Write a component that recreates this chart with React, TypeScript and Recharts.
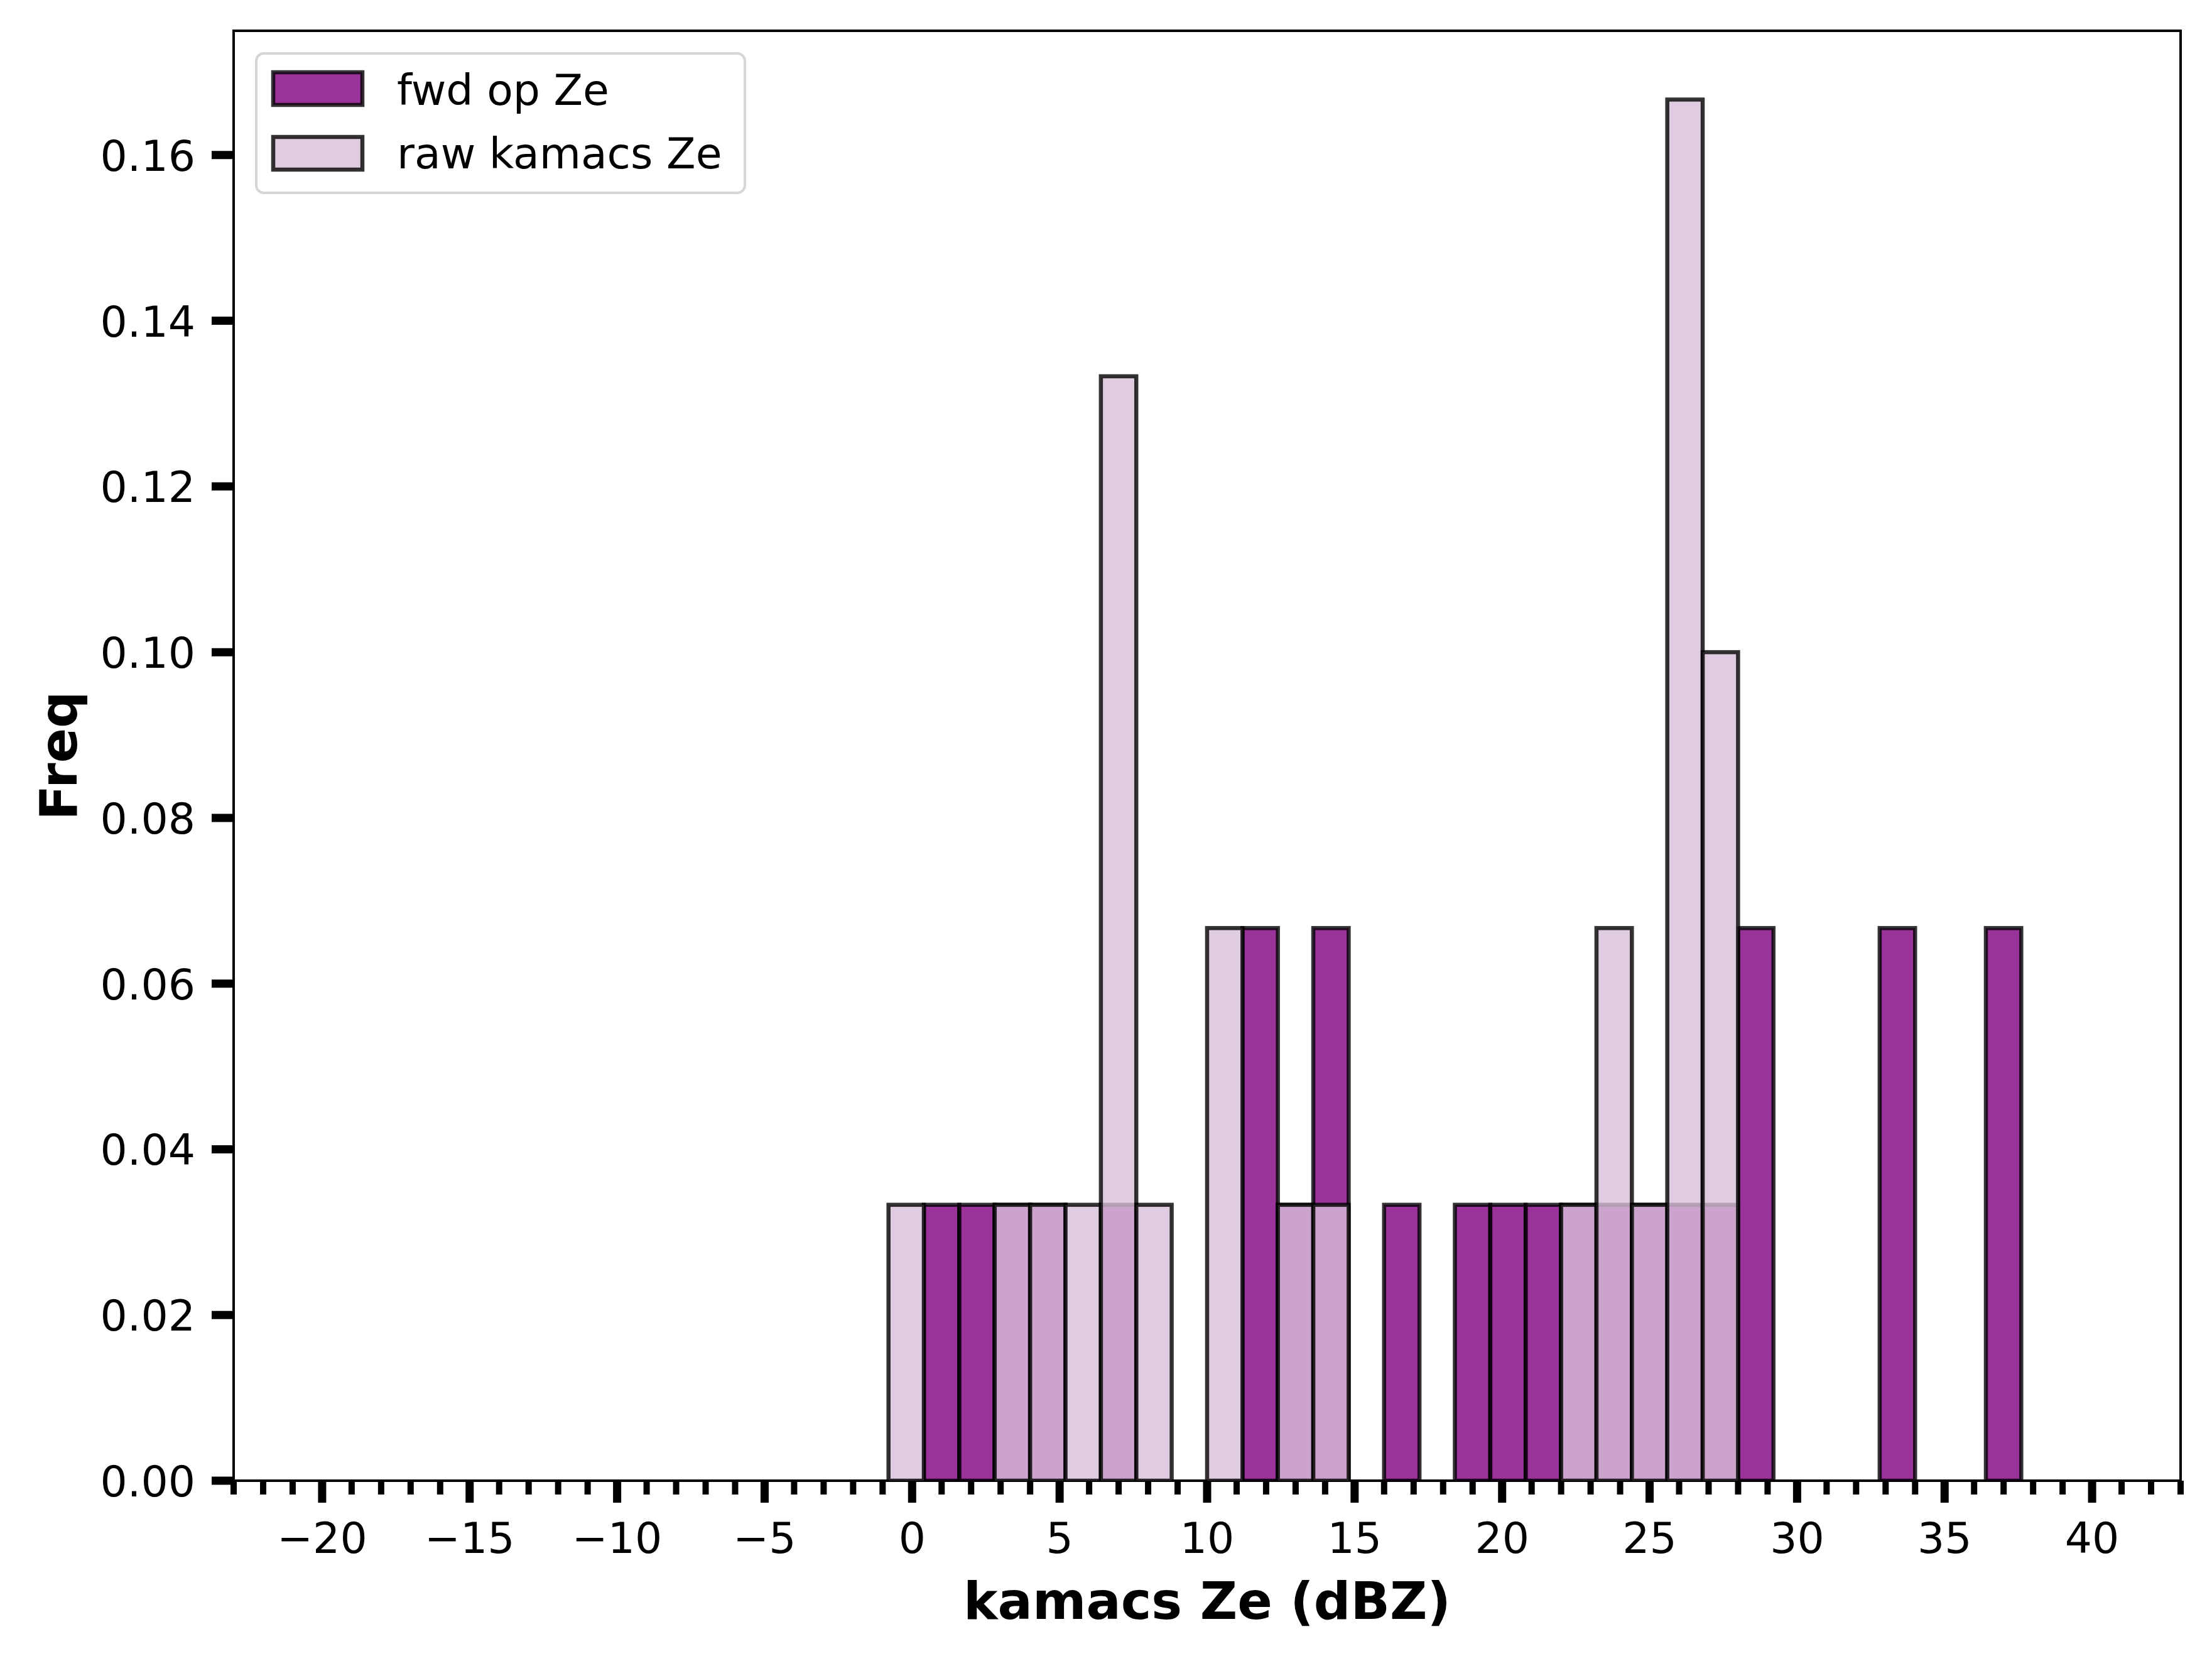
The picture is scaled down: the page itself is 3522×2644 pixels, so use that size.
import React from "react";
import { ComposedChart, Bar, XAxis, YAxis, ReferenceArea, Legend, Label } from "recharts";

// histogram bins (width 1.2 dBZ), only the non-empty ones
const binCenters = [-0.2, 1.0, 2.2, 3.4, 4.6, 5.8, 7.0, 8.2, 10.6, 11.8, 13.0, 14.2, 16.6, 19.0, 20.2, 21.4, 22.6, 23.8, 25.0, 26.2, 27.4, 28.6, 33.4, 37.0];
const fwdFreq = [0, 0.0333, 0.0333, 0.0333, 0.0333, 0, 0.0333, 0, 0, 0.0667, 0.0333, 0.0667, 0.0333, 0.0333, 0.0333, 0.0333, 0.0333, 0.0333, 0.0333, 0.0333, 0.0333, 0.0667, 0.0667, 0.0667];
const rawFreq = [0.0333, 0, 0, 0.0333, 0.0333, 0.0333, 0.1333, 0.0333, 0.0667, 0, 0.0333, 0.0333, 0, 0, 0, 0, 0.0333, 0.0667, 0.0333, 0.1667, 0.1, 0, 0, 0];

const xMajorTicks = [-20, -15, -10, -5, 0, 5, 10, 15, 20, 25, 30, 35, 40];
const yTicks = [0, 0.02, 0.04, 0.06, 0.08, 0.1, 0.12, 0.14, 0.16];
const X_DOMAIN: [number, number] = [-23, 43];
const Y_DOMAIN: [number, number] = [0, 0.175];
const BIN_WIDTH = 1.2;

const xMinorTicks: number[] = [];
for (let v = X_DOMAIN[0]; v <= X_DOMAIN[1]; v++) xMinorTicks.push(v);

const data = binCenters.map((c, i) => ({ center: c, fwd: fwdFreq[i], raw: rawFreq[i] }));

const W = 3522;
const H = 2644;
const M = { top: 49, right: 50, left: 0, bottom: 0 };
const Y_AXIS_W = 372;
const X_AXIS_H = 287;
const PLOT_W = W - M.left - M.right - Y_AXIS_W;
const BAR_PX = (BIN_WIDTH * PLOT_W) / (X_DOMAIN[1] - X_DOMAIN[0]);

const FONT = "DejaVu Sans";
const EDGE = "rgba(0,0,0,0.8)";
const EDGE_W = 6.5;

const fmtX = (v: number) => (v < 0 ? "\u2212" + Math.abs(v) : String(v));

const XTick = (props: any) => {
  const { x, y, payload } = props;
  const major = xMajorTicks.includes(payload.value);
  return (
    <g>
      <line x1={x} x2={x} y1={y} y2={y + (major ? 35 : 22)} stroke="#000" strokeWidth={major ? 13 : 10} />
      {major && (
        <text x={x} y={y + 115} textAnchor="middle" fontSize={68} fontFamily={FONT} fill="#000">
          {fmtX(payload.value)}
        </text>
      )}
    </g>
  );
};

const YTick = (props: any) => {
  const { x, y, payload } = props;
  return (
    <g>
      <line x1={x - 35} x2={x} y1={y} y2={y} stroke="#000" strokeWidth={13} />
      <text x={x - 61} y={y + 25} textAnchor="end" fontSize={68} fontFamily={FONT} fill="#000">
        {payload.value.toFixed(2)}
      </text>
    </g>
  );
};

// matplotlib-style bin: keep the library's centre, use the true bin width
const BinShape = (props: any) => {
  const { x, y, width, height, fill, fillOpacity } = props;
  if (!height || height <= 0) return null;
  const cx = x + width / 2;
  return (
    <rect
      x={cx - BAR_PX / 2}
      y={y}
      width={BAR_PX}
      height={height}
      fill={fill}
      fillOpacity={fillOpacity}
      stroke={EDGE}
      strokeWidth={EDGE_W}
    />
  );
};

const renderXLabel = (props: any) => {
  const vb = props.viewBox;
  return (
    <text x={vb.x + vb.width / 2} y={vb.y + 220} textAnchor="middle" fontSize={82} fontWeight="bold" fontFamily={FONT} fill="#000">
      kamacs Ze (dBZ)
    </text>
  );
};

const renderYLabel = (props: any) => {
  const vb = props.viewBox;
  const cy = vb.y + vb.height / 2;
  return (
    <text x={122} y={cy} transform={`rotate(-90 122 ${cy})`} textAnchor="middle" fontSize={82} fontWeight="bold" fontFamily={FONT} fill="#000">
      Freq
    </text>
  );
};

const legendItems = [
  { label: "fwd op Ze", fill: "purple" },
  { label: "raw kamacs Ze", fill: "thistle" },
];

const renderLegend = () => (
  <svg width={782} height={226} style={{ display: "block" }}>
    <rect x={2} y={2} width={778} height={222} rx={12} ry={12} fill="#fff" fillOpacity={0.8} stroke="#d6d6d6" strokeWidth={4} />
    {legendItems.map((it, i) => (
      <g key={it.label}>
        <rect x={29} y={32 + i * 103} width={142} height={52} fill={it.fill} fillOpacity={0.8} stroke={EDGE} strokeWidth={EDGE_W} />
        <text x={226} y={84 + i * 101} fontSize={68} fontFamily={FONT} fill="#000">
          {it.label}
        </text>
      </g>
    ))}
  </svg>
);

export default function App() {
  return (
    <div style={{ position: "absolute", left: 0, top: 0, width: W, height: H, background: "#fff" }}>
      <ComposedChart width={W} height={H} data={data} margin={M}>
        <XAxis
          xAxisId="main"
          type="number"
          dataKey="center"
          domain={X_DOMAIN}
          allowDataOverflow
          ticks={xMinorTicks}
          interval={0}
          tickSize={0}
          tickMargin={0}
          tickLine={false}
          axisLine={false}
          tick={<XTick />}
          height={X_AXIS_H}
        >
          <Label content={renderXLabel} />
        </XAxis>
        <XAxis xAxisId="over" type="number" dataKey="center" domain={X_DOMAIN} allowDataOverflow hide />
        <YAxis
          type="number"
          domain={Y_DOMAIN}
          allowDataOverflow
          ticks={yTicks}
          interval={0}
          tickSize={0}
          tickMargin={0}
          tickLine={false}
          axisLine={false}
          tick={<YTick />}
          width={Y_AXIS_W}
        >
          <Label content={renderYLabel} />
        </YAxis>
        <Bar
          xAxisId="main"
          dataKey="fwd"
          name="fwd op Ze"
          fill="purple"
          fillOpacity={0.8}
          barSize={BAR_PX - 0.1}
          shape={<BinShape />}
          isAnimationActive={false}
        />
        <Bar
          xAxisId="over"
          dataKey="raw"
          name="raw kamacs Ze"
          fill="thistle"
          fillOpacity={0.8}
          barSize={BAR_PX - 0.1}
          shape={<BinShape />}
          isAnimationActive={false}
        />
        <ReferenceArea
          xAxisId="main"
          x1={X_DOMAIN[0]}
          x2={X_DOMAIN[1]}
          y1={Y_DOMAIN[0]}
          y2={Y_DOMAIN[1]}
          fill="none"
          stroke="#000"
          strokeWidth={4}
          ifOverflow="visible"
        />
        <Legend
          verticalAlign="middle"
          align="center"
          width={782}
          height={226}
          content={renderLegend}
          wrapperStyle={{ left: 406, top: 83, width: 782, height: 226 }}
        />
      </ComposedChart>
    </div>
  );
}
